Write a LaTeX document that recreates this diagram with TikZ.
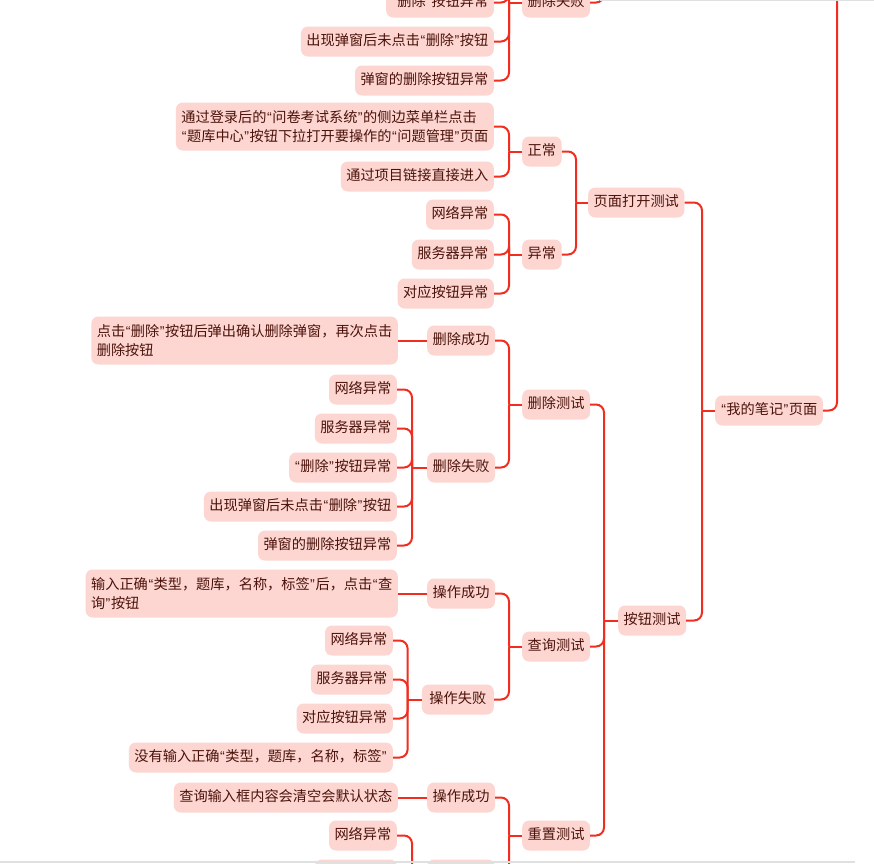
\documentclass[tikz,border=0pt]{standalone}
\usepackage{fontspec}
\newfontfamily\cjkf{Noto Sans CJK SC}
\newfontfamily\latf{Liberation Sans}
\newcommand\qo{{\latf\kern0.6pt “\kern0.4pt}}
\newcommand\qc{{\latf\kern0.4pt ”\kern0.6pt}}
\definecolor{nodefill}{RGB}{253,214,209}
\definecolor{nodetext}{RGB}{75,18,10}
\definecolor{linkred}{RGB}{240,45,30}
\tikzset{
  box/.style={fill=nodefill, rounded corners=7pt, inner xsep=5.5pt, inner ysep=0pt,
    minimum height=30pt, text height=11pt, text depth=3pt, text=nodetext,
    font=\cjkf\fontsize{14.2pt}{19pt}\selectfont},
  boxtwo/.style={fill=nodefill, rounded corners=7pt, inner xsep=5.5pt, inner ysep=6pt,
    minimum height=48pt, align=left, text=nodetext,
    font=\cjkf\fontsize{14.2pt}{19pt}\selectfont},
  link/.style={draw=linkred, line width=2pt, rounded corners=8pt},
  stem/.style={draw=linkred, line width=2pt},
}
\begin{document}
\begin{tikzpicture}[x=1pt,y=-1pt]
\useasboundingbox (0,0) rectangle (874,863);
\clip (0,0) rectangle (874,863);
\fill[white] (0,0) rectangle (874,863);
\begin{scope}[yshift=-1.5pt]
% ---------------- top cut branch ----------------
\node[box, anchor=west] (tsb) at (522,1) {删除失败};
\node[box, anchor=east] (tdq) at (494,1) {\qo 删除\qc 按钮异常};
\node[box, anchor=east] (tcx) at (494,40) {出现弹窗后未点击\qo 删除\qc 按钮};
\node[box, anchor=east] (ttc) at (494,79) {弹窗的删除按钮异常};
\coordinate (tsbj) at ([xshift=-13pt]tsb.west);
\coordinate (tabove) at (509,-60);
\coordinate (tsbup) at (604,-60);
\draw[stem] (tabove) -- (tsbj) -- (tsb.west);
\draw[link] (tdq.east) -| (tsbj);
\draw[link] (tcx.east) -| (tsbj);
\draw[link] (ttc.east) -| (tsbj);
\draw[link] (tsb.east) -| (tsbup);

% ---------------- main nodes ----------------
\node[box, anchor=west] (note) at (715,409) {\qo 我的笔记\qc 页面};
\node[box, anchor=west] (ymdk) at (588,201) {页面打开测试};
\node[box, anchor=west] (ancs) at (618,619) {按钮测试};
\coordinate (notej) at ([xshift=-13pt]note.west);
\coordinate (noteup) at (837,-60);
\draw[stem] (notej) -- (note.west);
\draw[link] (ymdk.east) -| (notej);
\draw[link] (ancs.east) -| (notej);
\draw[link] (note.east) -| (noteup);

% ---------------- 页面打开测试 ----------------
\node[box, anchor=west] (zc) at (522,150) {正常};
\node[box, anchor=west] (yc) at (522,253) {异常};
\coordinate (ymdkj) at ([xshift=-12pt]ymdk.west);
\draw[stem] (ymdkj) -- (ymdk.west);
\draw[link] (zc.east) -| (ymdkj);
\draw[link] (yc.east) -| (ymdkj);

\node[boxtwo, anchor=east] (pg1) at (494,125) {通过登录后的\qo 问卷考试系统\qc 的侧边菜单栏点击\\\qo 题库中心\qc 按钮下拉打开要操作的\qo 问题管理\qc 页面};
\node[box, anchor=east] (pg2) at (494,175) {通过项目链接直接进入};
\coordinate (zcj) at ([xshift=-13pt]zc.west);
\draw[stem] (zcj) -- (zc.west);
\draw[link] (pg1.east) -| (zcj);
\draw[link] (pg2.east) -| (zcj);

\node[box, anchor=east] (wl1) at (494,213) {网络异常};
\node[box, anchor=east] (fw1) at (494,253) {服务器异常};
\node[box, anchor=east] (dy1) at (494,292) {对应按钮异常};
\coordinate (ycj) at ([xshift=-13pt]yc.west);
\draw[stem] (ycj) -- (yc.west);
\draw[link] (wl1.east) -| (ycj);
\draw[link] (fw1.east) -| (ycj);
\draw[link] (dy1.east) -| (ycj);

% ---------------- 按钮测试 ----------------
\node[box, anchor=west] (sccs) at (522,403) {删除测试};
\node[box, anchor=west] (cxcs) at (522,645) {查询测试};
\node[box, anchor=west] (czcs) at (522,834) {重置测试};
\coordinate (ancsj) at ([xshift=-14pt]ancs.west);
\draw[stem] (ancsj) -- (ancs.west);
\draw[link] (sccs.east) -| (ancsj);
\draw[link] (cxcs.east) -| (ancsj);
\draw[link] (czcs.east) -| (ancsj);

% ---- 删除测试
\node[box, anchor=west] (sccg) at (427,339) {删除成功};
\node[box, anchor=west] (scsb) at (427,466) {删除失败};
\coordinate (sccsj) at ([xshift=-13pt]sccs.west);
\draw[stem] (sccsj) -- (sccs.west);
\draw[link] (sccg.east) -| (sccsj);
\draw[link] (scsb.east) -| (sccsj);

\node[boxtwo, anchor=east] (sccgc) at (398,339) {点击\qo 删除\qc 按钮后弹出确认删除弹窗，再次点击\\删除按钮};
\draw[stem] (sccgc.east) -- (sccg.west);

\node[box, anchor=east] (s1) at (397,388) {网络异常};
\node[box, anchor=east] (s2) at (397,427) {服务器异常};
\node[box, anchor=east] (s3) at (397,466) {\qo 删除\qc 按钮异常};
\node[box, anchor=east] (s4) at (397,505) {出现弹窗后未点击\qo 删除\qc 按钮};
\node[box, anchor=east] (s5) at (397,544) {弹窗的删除按钮异常};
\coordinate (scsbj) at ([xshift=-15pt]scsb.west);
\draw[stem] (scsbj) -- (scsb.west);
\foreach \c in {s1,s2,s3,s4,s5} \draw[link] (\c.east) -| (scsbj);

% ---- 查询测试
\node[box, anchor=west] (cxcg) at (427,592) {操作成功};
\node[box, anchor=east, minimum width=72pt] (cxsb) at (494,698) {操作失败};
\coordinate (cxcsj) at ([xshift=-13pt]cxcs.west);
\draw[stem] (cxcsj) -- (cxcs.west);
\draw[link] (cxcg.east) -| (cxcsj);
\draw[link] (cxsb.east) -| (cxcsj);

\node[boxtwo, anchor=east] (cxcgc) at (398,592) {输入正确\qo 类型，题库，名称，标签\qc 后，点击\qo 查\\询\qc 按钮};
\draw[stem] (cxcgc.east) -- (cxcg.west);

\node[box, anchor=east] (q1) at (393,639) {网络异常};
\node[box, anchor=east] (q2) at (393,678) {服务器异常};
\node[box, anchor=east] (q3) at (393,717) {对应按钮异常};
\node[box, anchor=east] (q4) at (393,756) {没有输入正确\qo 类型，题库，名称，标签\qc};
\coordinate (cxsbj) at ([xshift=-14pt]cxsb.west);
\draw[stem] (cxsbj) -- (cxsb.west);
\foreach \c in {q1,q2,q3,q4} \draw[link] (\c.east) -| (cxsbj);

% ---- 重置测试
\node[box, anchor=west] (czcg) at (427,796) {操作成功};
\node[box, anchor=west] (czsb) at (427,873) {操作失败};
\coordinate (czcsj) at ([xshift=-13pt]czcs.west);
\draw[stem] (czcsj) -- (czcs.west);
\draw[link] (czcg.east) -| (czcsj);
\draw[link] (czsb.east) -| (czcsj);

\node[box, anchor=east] (czcgc) at (398,796) {查询输入框内容会清空会默认状态};
\draw[stem] (czcgc.east) -- (czcg.west);

\node[box, anchor=east] (z1) at (397,834) {网络异常};
\node[box, anchor=east] (z2) at (397,873) {服务器异常};
\coordinate (czsbj) at ([xshift=-15pt]czsb.west);
\draw[stem] (czsbj) -- (czsb.west);
\draw[link] (z1.east) -| (czsbj);
\draw[link] (z2.east) -| (czsbj);
\end{scope}
% ---- window borders
\draw[black!12, line width=1.5pt] (600,0.5) -- (874,0.5);
\draw[black!12, line width=1.5pt] (0,862.2) -- (855,862.2);
\end{tikzpicture}
\end{document}
